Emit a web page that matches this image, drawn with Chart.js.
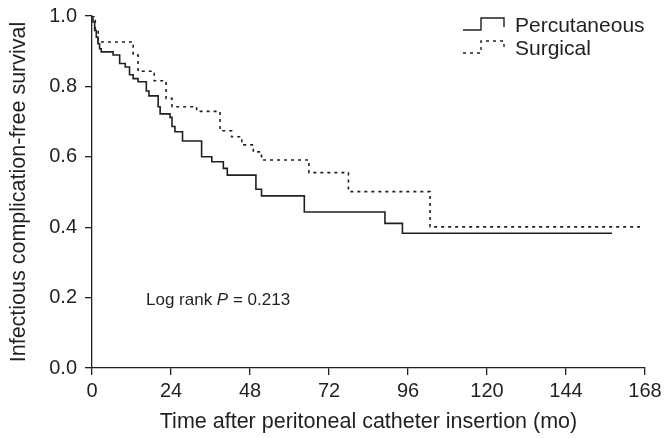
<!DOCTYPE html>
<html>
<head>
<meta charset="utf-8">
<script src="https://cdn.jsdelivr.net/npm/chart.js@4.4.1/dist/chart.umd.min.js"></script>
<style>
  body { margin: 0; background: #fff; }
  #wrap { width: 667px; height: 438px; }
</style>
</head>
<body>
<div id="wrap"><canvas id="km" width="667" height="438"></canvas></div>
<script>
// Kaplan-Meier steps: time (months) of each drop and survival after it
const percTime = [0, 0.3, 0.8, 1.3, 1.8, 2.3, 2.8, 6.4, 8.4, 10.1, 11.4, 12.5, 14.0, 16.5, 17.3, 20.1, 20.7, 23.7, 24.3, 25.2, 27.5, 33.3, 36.4, 39.9, 41.1, 49.8, 51.5, 64.5, 89.0, 94.3, 158];
const percSurv = [1.0, 0.983, 0.959, 0.940, 0.921, 0.907, 0.898, 0.889, 0.865, 0.855, 0.833, 0.822, 0.813, 0.787, 0.773, 0.742, 0.722, 0.712, 0.686, 0.671, 0.645, 0.600, 0.586, 0.567, 0.548, 0.508, 0.489, 0.443, 0.411, 0.383, 0.383];

const surgTime = [0, 1.0, 1.9, 12.5, 14.0, 18.9, 22.5, 24.3, 31.8, 38.9, 42.4, 45.5, 49.0, 51.5, 65.9, 77.9, 102.7, 166.5];
const surgSurv = [1.0, 0.963, 0.926, 0.889, 0.843, 0.816, 0.766, 0.742, 0.729, 0.674, 0.657, 0.634, 0.614, 0.591, 0.555, 0.501, 0.401, 0.401];

const xTicks = [0, 24, 48, 72, 96, 120, 144, 168];
const yTicks = [0, 0.2, 0.4, 0.6, 0.8, 1.0];
const seriesNames = ['Percutaneous', 'Surgical'];

const ink = '#231f20';
const fontFamily = "'Liberation Sans', Arial, Helvetica, sans-serif";
Chart.defaults.font.family = fontFamily;
Chart.defaults.font.size = 20;
Chart.defaults.color = ink;

const toPoints = (xs, ys) => xs.map((x, i) => ({ x: x, y: ys[i] }));

// step-shaped legend and the log rank note
const extras = {
  id: 'extras',
  afterDraw(chart) {
    const ctx = chart.ctx;
    const a = chart.chartArea;
    ctx.save();
    ctx.strokeStyle = ink;
    ctx.lineWidth = 1.4;

    const gx = a.right - 182;
    const rows = [{ y: a.top, dash: [] }, { y: a.top + 23, dash: [3, 4] }];
    rows.forEach((r, i) => {
      ctx.setLineDash(r.dash);
      ctx.beginPath();
      ctx.moveTo(gx, r.y + 14);
      ctx.lineTo(gx + 18, r.y + 14);
      ctx.lineTo(gx + 18, r.y + 2);
      ctx.lineTo(gx + 41, r.y + 2);
      ctx.lineTo(gx + 41, r.y + 11);
      ctx.stroke();
      ctx.setLineDash([]);
      ctx.fillStyle = ink;
      ctx.font = '21px ' + fontFamily;
      ctx.textBaseline = 'alphabetic';
      ctx.fillText(seriesNames[i], a.right - 130, r.y + 16);
    });

    const xs = chart.scales.x, ys = chart.scales.y;
    let tx = xs.getPixelForValue(16.4);
    const ty = ys.getPixelForValue(0.18);
    const parts = [['Log rank ', ''], ['P', 'italic '], [' = 0.213', '']];
    parts.forEach(p => {
      ctx.font = p[1] + '17px ' + fontFamily;
      ctx.fillText(p[0], tx, ty);
      tx += ctx.measureText(p[0]).width;
    });
    ctx.restore();
  }
};

new Chart(document.getElementById('km'), {
  type: 'line',
  data: {
    datasets: [
      {
        label: seriesNames[0],
        data: toPoints(percTime, percSurv),
        stepped: 'before',
        borderColor: ink,
        borderWidth: 1.6,
        pointRadius: 0,
        fill: false
      },
      {
        label: seriesNames[1],
        data: toPoints(surgTime, surgSurv),
        stepped: 'before',
        borderColor: ink,
        borderWidth: 1.6,
        borderDash: [3, 4],
        pointRadius: 0,
        fill: false
      }
    ]
  },
  options: {
    responsive: false,
    animation: false,
    layout: { padding: { top: 16, right: 22, bottom: 0, left: 0 } },
    plugins: { legend: { display: false }, tooltip: { enabled: false } },
    scales: {
      x: {
        type: 'linear',
        min: 0,
        max: 168,
        afterBuildTicks: s => { s.ticks = xTicks.map(v => ({ value: v })); },
        afterFit: s => { s.height = 70; s.paddingLeft = 0; s.paddingRight = 0; },
        ticks: { padding: 4, maxRotation: 0, autoSkip: false },
        grid: { drawOnChartArea: false, drawTicks: true, tickLength: 7, color: ink, lineWidth: 1.3 },
        border: { display: true, color: ink, width: 1.3 },
        title: { display: true, text: 'Time after peritoneal catheter insertion (mo)', font: { size: 21.5 }, padding: { top: 0, bottom: 3 } }
      },
      y: {
        min: 0,
        max: 1,
        afterBuildTicks: s => { s.ticks = yTicks.map(v => ({ value: v })); },
        afterFit: s => { s.width = 92; s.paddingTop = 0; s.paddingBottom = 0; },
        ticks: { padding: 8, callback: v => v.toFixed(1) },
        grid: { drawOnChartArea: false, drawTicks: true, tickLength: 7, color: ink, lineWidth: 1.3 },
        border: { display: true, color: ink, width: 1.3 },
        title: { display: true, text: 'Infectious complication-free survival', font: { size: 21.5 }, padding: { top: 6, bottom: 0 } }
      }
    }
  },
  plugins: [extras]
});
</script>
</body>
</html>
